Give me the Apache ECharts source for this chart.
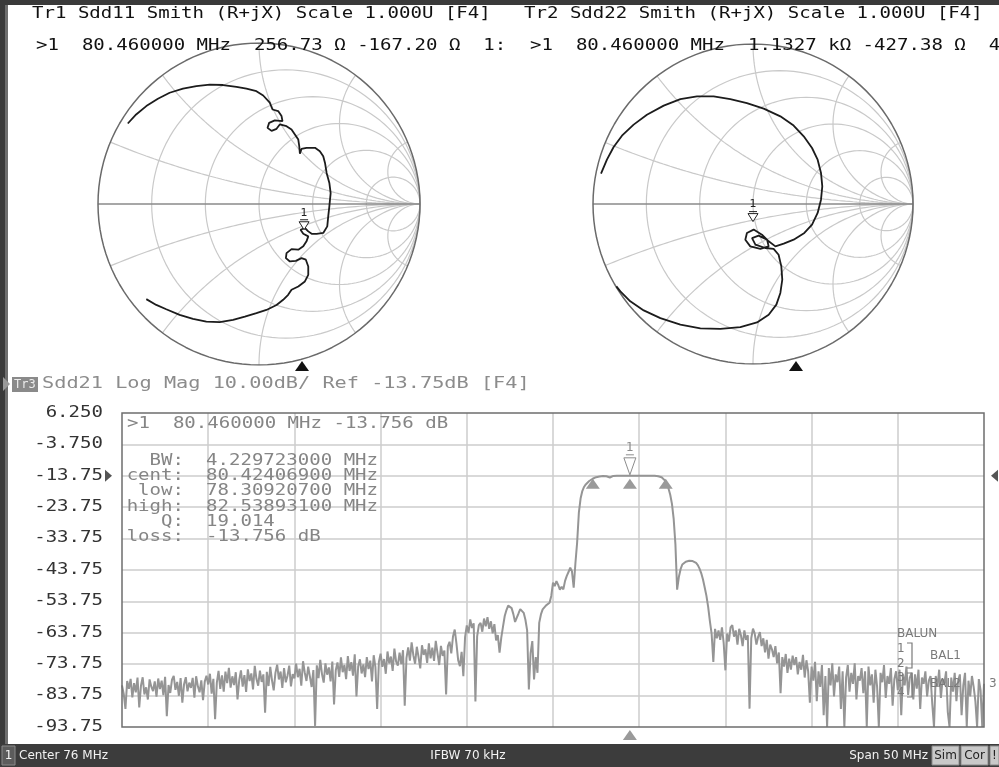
<!DOCTYPE html>
<html>
<head>
<meta charset="utf-8">
<script src="https://cdn.jsdelivr.net/npm/echarts@6/dist/echarts.min.js"></script>
<style>
html,body{margin:0;padding:0;background:#fff;}
#main{width:999px;height:767px;}
</style>
</head>
<body>
<div id="main"></div>
<script>
// Tr3 Sdd21 log mag, sweep 51..101 MHz in 0.1 MHz steps (one row per MHz)
var sweepStart = 51, sweepStep = 0.1;
var sdd21 = [
  -80.5, -83.2, -88.0, -79.1, -81.6, -78.4, -84.3, -79.8, -82.7, -78.0,   // 51
  -87.5, -80.6, -77.9, -83.4, -81.1, -85.0, -78.6, -80.9, -82.3, -79.2,   // 52
  -84.1, -78.3, -81.7, -79.0, -83.6, -77.8, -90.3, -80.4, -82.9, -78.7,   // 53
  -77.5, -81.9, -79.4, -83.8, -78.2, -86.0, -80.1, -77.9, -82.4, -79.6,   // 54
  -81.3, -78.1, -84.4, -77.6, -80.8, -82.7, -78.9, -85.2, -79.3, -77.4,   // 55
  -80.2, -76.8, -83.1, -78.4, -91.3, -79.7, -75.9, -81.6, -77.3, -82.5,   // 56
  -76.1, -79.8, -74.9, -81.2, -77.6, -80.4, -76.3, -85.0, -78.8, -75.7,   // 57
  -80.9, -77.2, -82.6, -75.4, -79.1, -76.7, -81.8, -74.3, -78.5, -80.6,   // 58
  -75.8, -79.4, -77.0, -89.2, -76.2, -80.7, -74.6, -78.9, -82.1, -76.5,   // 59
  -73.9, -78.6, -76.1, -81.3, -75.0, -79.5, -77.4, -74.2, -80.8, -76.9,   // 60
  -78.3, -73.6, -77.9, -75.2, -80.6, -72.8, -76.4, -79.1, -74.5, -77.7,   // 61
  -81.0, -75.6, -93.4, -74.1, -78.2, -72.4, -76.9, -79.6, -73.5, -77.1,   // 62
  -74.8, -79.2, -72.9, -86.6, -75.7, -73.2, -77.8, -71.6, -76.3, -74.0,   // 63
  -78.5, -71.2, -75.9, -73.1, -77.4, -70.6, -84.0, -74.4, -72.2, -76.7,   // 64
  -73.8, -77.9, -71.5, -75.3, -72.6, -79.2, -70.9, -74.7, -88.0, -73.0,   // 65
  -70.4, -74.6, -72.1, -76.8, -69.7, -73.5, -71.3, -75.9, -68.8, -72.9,   // 66
  -74.2, -70.1, -73.7, -69.3, -87.0, -71.8, -68.4, -72.6, -66.8, -70.9,   // 67
  -73.6, -68.2, -71.4, -75.1, -67.7, -70.8, -69.0, -73.3, -67.1, -71.9,   // 68
  -68.5, -72.7, -66.3, -70.2, -74.0, -67.9, -71.1, -69.4, -83.4, -68.1,   // 69
  -66.6, -70.3, -64.9, -62.7, -67.2, -72.5, -74.4, -69.8, -77.6, -65.1,   // 70
  -61.4, -63.8, -59.5, -62.2, -60.7, -85.6, -64.9, -61.3, -60.6, -63.4,   // 71
  -59.2, -61.7, -58.8, -62.5, -60.1, -63.9, -61.0, -66.2, -64.5, -70.1,   // 72
  -65.3, -61.8, -58.4, -56.5, -55.1, -54.7, -55.9, -57.8, -60.3, -58.9,   // 73
  -57.6, -56.2, -55.8, -57.4, -59.6, -63.0, -81.8, -70.2, -66.4, -78.6,   // 74
  -71.5, -76.5, -60.6, -57.9, -56.3, -55.8, -55.0, -54.6, -54.2, -52.0,   // 75
  -47.8, -48.9, -47.3, -48.5, -50.0, -49.1, -49.9, -47.2, -45.6, -44.4,   // 76
  -43.0, -44.2, -49.4, -41.6, -35.0, -25.5, -21.0, -18.6, -17.3, -16.5,   // 77
  -15.9, -15.4, -15.0, -14.7, -14.4, -14.2, -14.1, -14.0, -13.9, -13.8,   // 78
  -13.8, -13.9, -14.2, -14.3, -14.0, -13.8, -13.7, -13.7, -13.7, -13.7,   // 79
  -13.7, -13.7, -13.7, -13.7, -13.75, -13.76, -13.75, -13.7, -13.7, -13.7, // 80
  -13.7, -13.7, -13.7, -13.7, -13.7, -13.7, -13.7, -13.7, -13.75, -13.75, // 81
  -13.8, -13.9, -14.0, -14.2, -14.6, -15.3, -16.3, -17.8, -19.8, -22.7,   // 82
  -27.5, -35.5, -50.0, -46.0, -43.5, -42.0, -41.4, -41.1, -40.9, -40.8,   // 83
  -40.8, -40.9, -41.1, -41.5, -42.2, -43.3, -44.8, -46.8, -49.3, -52.0,   // 84
  -55.5, -60.0, -64.0, -73.0, -62.5, -65.5, -63.0, -66.0, -62.0, -67.0,   // 85
  -75.7, -64.0, -66.5, -62.0, -61.3, -65.0, -63.0, -67.5, -62.5, -64.5,   // 86
  -68.0, -63.0, -66.0, -64.5, -87.9, -65.5, -62.4, -64.0, -67.5, -65.0,   // 87
  -63.5, -68.0, -65.5, -70.0, -66.0, -72.0, -67.5, -69.0, -71.5, -68.0,   // 88
  -73.5, -70.0, -83.0, -71.5, -74.5, -70.5, -76.5, -72.0, -75.5, -71.0,   // 89
  -74.0, -71.5, -77.0, -73.0, -75.5, -70.8, -78.0, -72.5, -76.0, -86.0,   // 90
  -74.5, -79.0, -73.0, -85.5, -76.0, -81.0, -74.0, -90.0, -77.5, -93.7,   // 91
  -75.0, -80.5, -73.5, -84.0, -77.0, -79.5, -74.5, -88.0, -76.0, -93.7,   // 92
  -78.0, -74.0, -82.5, -76.5, -80.0, -73.5, -85.0, -77.5, -79.0, -75.0,   // 93
  -83.0, -76.0, -93.7, -74.5, -80.5, -77.0, -86.0, -75.5, -81.0, -93.7,   // 94
  -76.5, -79.5, -74.0, -84.5, -77.5, -80.0, -75.0, -87.0, -78.5, -76.0,   // 95
  -82.0, -75.5, -90.0, -77.0, -80.5, -74.5, -83.5, -78.0, -76.5, -85.0,   // 96
  -77.0, -81.5, -75.5, -88.0, -78.0, -80.0, -76.0, -84.0, -79.0, -77.5,   // 97
  -86.5, -93.7, -77.5, -81.0, -75.5, -84.5, -78.5, -80.0, -76.0, -89.0,   // 98
  -93.7, -78.0, -82.5, -76.5, -85.5, -79.0, -77.0, -90.0, -80.5, -76.5,   // 99
  -93.7, -79.0, -84.0, -77.5, -81.0, -85.5, -93.7, -78.5, -82.0, -93.7,   // 100
  -80.0                                                                   // 101
];

// marker 1 and bandwidth search results
var markerFreq = 80.46, markerDb = -13.756;
var bwLow = 78.309207, bwHigh = 82.538931;

// log mag axis
var yTicks = [6.25, -3.75, -13.75, -23.75, -33.75, -43.75, -53.75, -63.75, -73.75, -83.75, -93.75];
var yTickLabels = ['6.250', '-3.750', '-13.75', '-23.75', '-33.75', '-43.75', '-53.75', '-63.75', '-73.75', '-83.75', '-93.75'];

// Smith traces as reflection coefficient [re, im]
var sdd11 = [
  [-0.815,0.500],[-0.763,0.556],[-0.700,0.608],[-0.628,0.654],[-0.555,0.691],[-0.472,0.716],
  [-0.389,0.732],[-0.306,0.741],[-0.223,0.739],[-0.140,0.728],[-0.078,0.716],[-0.016,0.701],
  [0.026,0.674],[0.067,0.629],[0.084,0.587],[0.119,0.577],[0.140,0.546],[0.146,0.515],
  [0.098,0.519],[0.063,0.504],[0.053,0.473],[0.078,0.454],[0.109,0.467],[0.129,0.494],
  [0.171,0.483],[0.202,0.463],[0.223,0.432],[0.244,0.400],[0.250,0.359],[0.254,0.313],
  [0.264,0.342],[0.295,0.349],[0.348,0.349],[0.378,0.328],[0.399,0.297],[0.410,0.255],
  [0.420,0.193],[0.437,0.131],[0.445,0.068],[0.437,-0.015],[0.430,-0.077],[0.424,-0.139],
  [0.399,-0.180],[0.358,-0.185],[0.327,-0.185],[0.306,-0.170],[0.285,-0.149],[0.258,-0.160],
  [0.275,-0.185],[0.306,-0.201],[0.295,-0.232],[0.275,-0.263],[0.244,-0.284],[0.202,-0.280],
  [0.171,-0.305],[0.167,-0.336],[0.192,-0.357],[0.229,-0.353],[0.264,-0.336],[0.291,-0.346],
  [0.306,-0.388],[0.306,-0.440],[0.285,-0.481],[0.244,-0.512],[0.202,-0.533],[0.181,-0.564],
  [0.150,-0.595],[0.109,-0.627],[0.046,-0.658],[-0.016,-0.678],[-0.088,-0.699],[-0.161,-0.720],
  [-0.244,-0.734],[-0.327,-0.730],[-0.410,-0.714],[-0.493,-0.689],[-0.576,-0.654],[-0.638,-0.627],
  [-0.700,-0.591]
];
var sdd22 = [
  [-0.950,0.190],[-0.913,0.277],[-0.871,0.356],[-0.819,0.427],[-0.746,0.496],[-0.663,0.558],
  [-0.558,0.615],[-0.454,0.656],[-0.350,0.673],[-0.246,0.673],[-0.142,0.656],[-0.038,0.631],
  [0.067,0.596],[0.171,0.548],[0.254,0.490],[0.317,0.423],[0.369,0.350],[0.404,0.277],
  [0.425,0.194],[0.433,0.110],[0.425,0.027],[0.404,-0.056],[0.369,-0.129],[0.321,-0.181],
  [0.254,-0.223],[0.192,-0.248],[0.140,-0.265],[0.098,-0.233],[0.056,-0.192],[0.004,-0.160],
  [-0.038,-0.181],[-0.048,-0.223],[-0.017,-0.265],[0.046,-0.281],[0.098,-0.265],[0.088,-0.223],
  [0.035,-0.198],[-0.006,-0.213],[0.015,-0.254],[0.077,-0.275],[0.129,-0.281],[0.160,-0.317],
  [0.177,-0.390],[0.183,-0.473],[0.171,-0.556],[0.146,-0.629],[0.098,-0.692],[0.025,-0.740],
  [-0.079,-0.769],[-0.204,-0.781],[-0.329,-0.777],[-0.454,-0.754],[-0.579,-0.713],[-0.683,-0.665],
  [-0.767,-0.608],[-0.829,-0.546],[-0.854,-0.515]
];
var sdd11Marker = [0.28, -0.16];
var sdd22Marker = [0.0, -0.11];

// Smith grid: constant resistance / reactance values
var smithR = [0.2, 0.5, 1, 2, 5];
var smithX = [0.2, 0.5, 1, 2, 5];

function rCircle(r) {
  var c = r / (1 + r), rad = 1 / (1 + r), pts = [];
  for (var a = 0; a <= 360; a += 3) {
    var t = a * Math.PI / 180;
    pts.push([c + rad * Math.cos(t), rad * Math.sin(t)]);
  }
  return pts;
}
function xArc(x) {
  var pts = [];
  for (var k = 0; k < 90; k++) {
    var t = Math.tan(k * Math.PI / 180);
    var d = (t + 1) * (t + 1) + x * x;
    pts.push([(t * t + x * x - 1) / d, 2 * x / d]);
  }
  pts.push([1, 0]);
  return pts;
}
function line(g, data, color, width, z) {
  return { type: 'line', xAxisIndex: g, yAxisIndex: g, data: data, symbol: 'none',
    silent: true, z: z || 2, lineStyle: { color: color, width: width } };
}
function smithSeries(g, trace) {
  var s = [];
  smithR.forEach(function (r) { s.push(line(g, rCircle(r), '#c9c9c9', 1.2)); });
  smithX.forEach(function (x) {
    s.push(line(g, xArc(x), '#c9c9c9', 1.2));
    s.push(line(g, xArc(-x), '#c9c9c9', 1.2));
  });
  s.push(line(g, [[-1, 0], [1, 0]], '#8a8a8a', 1.5, 3));
  s.push(line(g, rCircle(0), '#6a6a6a', 1.5, 3));
  s.push(line(g, trace, '#1c1c1c', 1.8, 5));
  return s;
}
function smithAxis(i) {
  return { type: 'value', gridIndex: i, min: -1, max: 1, show: false,
    axisLine: { show: false }, axisTick: { show: false }, axisLabel: { show: false }, splitLine: { show: false } };
}

var chart = echarts.init(document.getElementById('main'));

var series = smithSeries(0, sdd11).concat(smithSeries(1, sdd22));
series.push({
  type: 'line', xAxisIndex: 2, yAxisIndex: 2, symbol: 'none', z: 5,
  data: sdd21.map(function (v, i) { return [sweepStart + i * sweepStep, v]; }),
  lineStyle: { color: '#959595', width: 2 }
});

var split = { show: true, showMinLine: false, showMaxLine: false, lineStyle: { color: '#cdcdcd', width: 1.5 } };

chart.setOption({
  animation: false,
  backgroundColor: '#ffffff',
  grid: [
    { left: 98, top: 43, width: 322, height: 322 },
    { left: 593, top: 44, width: 320, height: 320 },
    { left: 122, top: 413, width: 862, height: 314 }
  ],
  xAxis: [smithAxis(0), smithAxis(1), {
    type: 'value', gridIndex: 2, min: 51, max: 101, interval: 5,
    axisLine: { show: false }, axisTick: { show: false }, axisLabel: { show: false }, splitLine: split
  }],
  yAxis: [smithAxis(0), smithAxis(1), {
    type: 'value', gridIndex: 2, min: -93.75, max: 6.25, interval: 10,
    axisLine: { show: false }, axisTick: { show: false }, axisLabel: { show: false }, splitLine: split
  }],
  series: series
});

// ---------- overlay: texts, markers, frame ----------
var MONO = 'DejaVu Sans Mono', SANS = 'DejaVu Sans';
function mono(x, y, s, color, align, sx, size) {
  return { type: 'text', x: x, y: y, scaleX: sx || 1.27, z: 100,
    style: { text: s, fontFamily: MONO, fontSize: size || 15, fill: color,
      textAlign: align || 'left', align: align || 'left', textVerticalAlign: 'middle', verticalAlign: 'middle' } };
}
function sans(x, y, s, color, size, align) {
  return { type: 'text', x: x, y: y, z: 100,
    style: { text: s, fontFamily: SANS, fontSize: size, fill: color,
      textAlign: align || 'left', align: align || 'left', textVerticalAlign: 'middle', verticalAlign: 'middle' } };
}
function poly(pts, fill, stroke) {
  return { type: 'polygon', z: 101, shape: { points: pts },
    style: { fill: fill || 'none', stroke: stroke || null, lineWidth: 1 } };
}
function rect(x, y, w, h, fill, stroke) {
  return { type: 'rect', z: 99, shape: { x: x, y: y, width: w, height: h },
    style: { fill: fill, stroke: stroke || null, lineWidth: 1 } };
}
function up(x, y, c) { return poly([[x, y], [x - 7, y + 10], [x + 7, y + 10]], c); }

var g = [];
// frame
g.push(rect(0, 0, 999, 5, '#3a3a3a'));
g.push(rect(0, 0, 8, 745, '#3a3a3a'));
g.push(rect(5, 5, 3, 740, '#6e6e6e'));

// Smith headers
g.push(mono(32, 14, 'Tr1 Sdd11 Smith (R+jX) Scale 1.000U [F4]', '#111'));
g.push(mono(524, 14, 'Tr2 Sdd22 Smith (R+jX) Scale 1.000U [F4]', '#111'));
g.push(mono(36, 46, '>1  80.460000 MHz  256.73 \u03a9 -167.20 \u03a9  1:', '#111'));
g.push(mono(530, 46, '>1  80.460000 MHz  1.1327 k\u03a9 -427.38 \u03a9  4', '#111'));

// Smith markers
[[0, sdd11Marker], [1, sdd22Marker]].forEach(function (m) {
  var p = chart.convertToPixel({ gridIndex: m[0] }, m[1]);
  g.push(poly([[p[0] - 5, p[1] - 8], [p[0] + 5, p[1] - 8], [p[0], p[1]]], '#fff', '#222'));
  g.push({ type: 'line', z: 101, shape: { x1: p[0] - 4, y1: p[1] - 10, x2: p[0] + 4, y2: p[1] - 10 }, style: { stroke: '#222', lineWidth: 1 } });
  g.push(sans(p[0], p[1] - 17, '1', '#222', 11, 'center'));
});
g.push(up(302, 361, '#111'));
g.push(up(796, 361, '#111'));

// Tr3 header
g.push(poly([[3, 377], [10, 384], [3, 391]], '#9a9a9a'));
g.push(rect(12, 377, 26, 15, '#8a8a8a'));
g.push(mono(14, 384.5, 'Tr3', '#ececec', 'left', 1.0, 12));
g.push(mono(42, 384, 'Sdd21 Log Mag 10.00dB/ Ref -13.75dB [F4]', '#8c8c8c', 'left', 1.35));

// y tick labels
yTicks.forEach(function (v, i) {
  var p = chart.convertToPixel({ gridIndex: 2 }, [51, v]);
  g.push(mono(103, p[1], yTickLabels[i], '#333', 'right'));
});
var refY = chart.convertToPixel({ gridIndex: 2 }, [51, -13.75])[1];
g.push(poly([[105, refY - 6], [112, refY], [105, refY + 6]], '#555'));
g.push(poly([[998, refY - 6], [991, refY], [998, refY + 6]], '#555'));

// plot border
g.push({ type: 'rect', z: 98, shape: { x: 122, y: 413, width: 862, height: 314 },
  style: { fill: 'none', stroke: '#6e6e6e', lineWidth: 1.5 } });

// marker table
g.push(mono(127, 424, '>1  80.460000 MHz -13.756 dB', '#858585'));
var tblRows = [['BW:', '4.229723000 MHz'], ['cent:', '80.42406900 MHz'], ['low:', '78.30920700 MHz'],
  ['high:', '82.53893100 MHz'], ['Q:', '19.014'], ['loss:', '-13.756 dB']];
tblRows.forEach(function (r, i) {
  var y = 461 + i * 15.3;
  g.push(mono(184, y, r[0], '#858585', 'right'));
  g.push(mono(206, y, r[1], '#858585'));
});

// log mag markers
var mp = chart.convertToPixel({ gridIndex: 2 }, [markerFreq, markerDb]);
g.push(poly([[mp[0] - 6, mp[1] - 18], [mp[0] + 6, mp[1] - 18], [mp[0], mp[1] - 1]], '#fff', '#8c8c8c'));
g.push({ type: 'line', z: 101, shape: { x1: mp[0] - 4, y1: mp[1] - 21, x2: mp[0] + 4, y2: mp[1] - 21 }, style: { stroke: '#8c8c8c', lineWidth: 1 } });
g.push(sans(mp[0], mp[1] - 28, '1', '#8c8c8c', 12, 'center'));
[bwLow, markerFreq, bwHigh].forEach(function (f) {
  var p = chart.convertToPixel({ gridIndex: 2 }, [f, markerDb]);
  g.push(up(p[0], p[1] + 3, '#9a9a9a'));
});
g.push(up(mp[0], 730, '#9a9a9a'));

// balun legend
g.push(sans(897, 634, 'BALUN', '#7a7a7a', 12));
['1', '2', '3', '4'].forEach(function (s, i) { g.push(sans(897, 649 + i * 14.5, s, '#7a7a7a', 12)); });
g.push({ type: 'polyline', z: 101, shape: { points: [[907, 643], [912, 643], [912, 668], [907, 668]] }, style: { stroke: '#7a7a7a', fill: 'none', lineWidth: 1.2 } });
g.push({ type: 'polyline', z: 101, shape: { points: [[907, 673], [912, 673], [912, 697], [907, 697]] }, style: { stroke: '#7a7a7a', fill: 'none', lineWidth: 1.2 } });
g.push(sans(930, 656, 'BAL1', '#7a7a7a', 12));
g.push(sans(930, 684, 'BAL2', '#7a7a7a', 12));
g.push(sans(989, 684, '3', '#7a7a7a', 12));

// status bar
g.push(rect(0, 744, 999, 23, '#3c3c3c'));
g.push(rect(2, 746, 13, 19, '#5c5c5c', '#8a8a8a'));
g.push(sans(8.5, 756, '1', '#f2f2f2', 12, 'center'));
g.push(sans(19, 756, 'Center 76 MHz', '#f2f2f2', 12));
g.push(sans(468, 756, 'IFBW 70 kHz', '#f2f2f2', 12, 'center'));
g.push(sans(928, 756, 'Span 50 MHz', '#f2f2f2', 12, 'right'));
[['Sim', 932, 27], ['Cor', 961, 27], ['!', 990, 9]].forEach(function (b) {
  g.push(rect(b[1], 746, b[2], 19, '#c9c9c9', '#8a8a8a'));
  g.push(sans(b[1] + b[2] / 2, 756, b[0], '#222', 12, 'center'));
});

chart.setOption({ graphic: g });
</script>
</body>
</html>
